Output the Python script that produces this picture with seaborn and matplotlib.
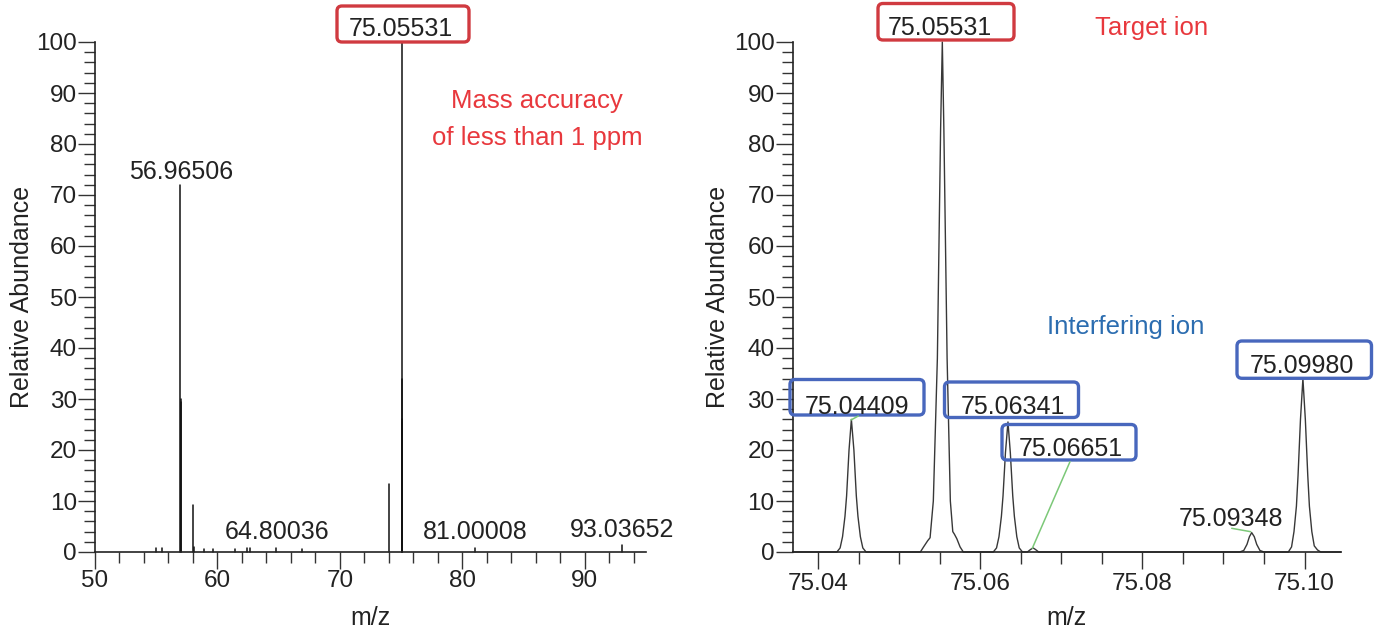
import numpy as np
import pandas as pd
import matplotlib
matplotlib.use("Agg")
import matplotlib.pyplot as plt
import seaborn as sns
from matplotlib.patches import FancyBboxPatch
from matplotlib.lines import Line2D
from matplotlib.transforms import IdentityTransform
from matplotlib.ticker import MultipleLocator

# ---------------- data ----------------
# Left panel: centroid (stick) spectrum
stick_mz = [54.96, 55.51, 56.96506, 57.00, 57.04, 58.00, 58.12, 58.87, 59.62,
            61.44, 62.45, 62.64, 64.80036, 66.90, 74.05, 75.04409, 75.05531,
            75.06341, 75.09348, 75.09980, 81.00008, 93.03652]
stick_ab = [0.7, 0.7, 72, 30, 29.5, 9.3, 1.0, 0.6, 0.6,
            0.6, 0.7, 0.7, 0.7, 0.5, 13.3, 26, 100,
            25.5, 3.8, 34, 0.8, 1.3]

# Right panel: profile spectrum, one list per peak
p1_mz = [75.0423, 75.0427, 75.0430, 75.0433, 75.0435, 75.0438, 75.04409,
         75.0444, 75.0447, 75.0449, 75.0452, 75.0455, 75.0459]
p1_ab = [0, 0.8, 3, 7, 11, 20, 26, 20, 11, 7, 3, 0.8, 0]
p2_mz = [75.0526, 75.0530, 75.0535, 75.0538, 75.0542, 75.0547, 75.0551, 75.05531,
         75.0555, 75.0559, 75.0563, 75.0566, 75.0568, 75.0571, 75.0575, 75.0579]
p2_ab = [0, 1, 2.2, 2.8, 10, 38, 83, 100, 83, 38, 10, 4, 3.5, 2.6, 1, 0]
p3_mz = [75.0616, 75.0620, 75.0623, 75.0626, 75.0628, 75.0631, 75.06341,
         75.0637, 75.0640, 75.0642, 75.0645, 75.0648, 75.0652]
p3_ab = [0, 0.8, 3, 7, 11, 19.5, 25.5, 19.5, 11, 7, 3, 0.8, 0]
p4_mz = [75.0658, 75.0662, 75.06651, 75.0668, 75.0672]
p4_ab = [0, 0.5, 0.8, 0.5, 0]
p5_mz = [75.0920, 75.0925, 75.0929, 75.0932, 75.09348, 75.0938, 75.0941, 75.0945, 75.0950]
p5_ab = [0, 0.3, 1.5, 3, 3.8, 3, 1.5, 0.3, 0]
p6_mz = [75.0980, 75.0984, 75.0987, 75.0990, 75.0992, 75.0995, 75.0998,
         75.1001, 75.1004, 75.1006, 75.1009, 75.1012, 75.1016, 75.1020]
p6_ab = [0, 1, 4, 9, 15, 26, 34, 26, 15, 9, 4, 1.2, 0.4, 0]

left_xlim = (50, 95)
right_xlim = (75.03685, 75.1045)
right_xticks = [75.04, 75.06, 75.08, 75.10]
right_xticklabels = ["75.04", "75.06", "75.08", "75.10"]

# ---------------- style ----------------
sns.set_style("ticks")
plt.rcParams["font.family"] = ["Liberation Sans", "DejaVu Sans"]
TXT = "#222222"
RED_TXT = "#e8383d"
RED_BOX = "#d03a40"
BLUE_TXT = "#2c6db0"
BLUE_BOX = "#4867bd"
GREEN = "#7cc878"

W, H = 1376, 632
fig = plt.figure(figsize=(W / 100, H / 100), dpi=100)

axL = fig.add_axes([95 / W, 1 - 552 / H, (646 - 95) / W, 510 / H])
axR = fig.add_axes([792.7 / W, 1 - 552 / H, (1341 - 792.7) / W, 510 / H])

# left sticks
rows = []
for i, (m, a) in enumerate(zip(stick_mz, stick_ab)):
    rows.append((i, m, 0.0))
    rows.append((i, m, a))
df_st = pd.DataFrame(rows, columns=["pk", "mz", "ab"])
sns.lineplot(data=df_st, x="mz", y="ab", units="pk", estimator=None, sort=False,
             color="#111111", lw=1.1, ax=axL, legend=False)
for ln in axL.lines:
    ln.set_clip_on(False)

# right profile
prof_mz = [right_xlim[0]] + p1_mz + p2_mz + p3_mz + p4_mz + p5_mz + p6_mz + [right_xlim[1]]
prof_ab = [0] + p1_ab + p2_ab + p3_ab + p4_ab + p5_ab + p6_ab + [0]
df_pr = pd.DataFrame({"mz": prof_mz, "ab": prof_ab})
sns.lineplot(data=df_pr, x="mz", y="ab", estimator=None, sort=False,
             color="#383838", lw=1.0, ax=axR, legend=False)
for ln in axR.lines:
    ln.set_clip_on(False)

for ax in (axL, axR):
    ax.set_ylim(0, 100)
    ax.yaxis.set_major_locator(MultipleLocator(10))
    ax.yaxis.set_minor_locator(MultipleLocator(2))
    for s in ("top", "right"):
        ax.spines[s].set_visible(False)
    for s in ("left", "bottom"):
        ax.spines[s].set_linewidth(1.2)
        ax.spines[s].set_color("#222222")
    ax.tick_params(axis="both", which="both", direction="out", color="#333333",
                   width=1.0, labelcolor=TXT, labelsize=17.5)
    ax.tick_params(axis="y", which="major", length=12.5, pad=0.5)
    ax.tick_params(axis="y", which="minor", length=8)
    ax.set_ylabel("Relative Abundance", fontsize=18, color=TXT)
    ax.set_xlabel("m/z", fontsize=18, color=TXT)

axL.set_xlim(*left_xlim)
axL.xaxis.set_major_locator(MultipleLocator(10))
axL.xaxis.set_minor_locator(MultipleLocator(2))
axL.tick_params(axis="x", which="major", length=12.5, pad=0.5)
axL.tick_params(axis="x", which="minor", length=8)

axR.set_xlim(*right_xlim)
axR.set_xticks(right_xticks, right_xticklabels)
axR.xaxis.set_minor_locator(MultipleLocator(0.005))
axR.tick_params(axis="x", which="major", length=12, pad=3)
axR.tick_params(axis="x", which="minor", length=8.5)

axL.yaxis.set_label_coords(-0.110, 0.5)
axR.yaxis.set_label_coords(-0.114, 0.5)
axL.xaxis.set_label_coords(0.5, -0.105)
axR.xaxis.set_label_coords(0.5, -0.105)

# ---------------- annotations (pixel positions from the top-left) ----------------
FS = 18


def ptext(x, y_base, s, color=TXT, size=FS):
    fig.text(x / W, 1 - y_base / H, s, ha="center", va="baseline",
             color=color, fontsize=size)


def pbox(x0, x1, y0, y1, color):
    p = FancyBboxPatch((x0, H - y1), x1 - x0, y1 - y0,
                       boxstyle="round,pad=0,rounding_size=5",
                       fill=False, ec=color, lw=2.4, transform=IdentityTransform())
    fig.add_artist(p)


def pline(x0, y0, x1, y1):
    fig.add_artist(Line2D([x0, x1], [H - y0, H - y1], color=GREEN, lw=1.1,
                          transform=IdentityTransform()))


# left panel labels
ptext(401, 36, "75.05531")
pbox(337, 469, 6, 42, RED_BOX)
ptext(181, 178.5, "56.96506")
ptext(277, 539, "64.80036")
ptext(475, 539, "81.00008")
ptext(622, 537, "93.03652")
ptext(537, 108, "Mass accuracy", RED_TXT, 18.5)
ptext(537, 145.5, "of less than 1 ppm", RED_TXT, 18.5)

# right panel labels
ptext(940, 35, "75.05531")
pbox(878, 1014, 3.5, 40, RED_BOX)
ptext(1152, 35.5, "Target ion", RED_TXT, 18.5)
ptext(1126, 334, "Interfering ion", BLUE_TXT, 18.5)

ptext(857.5, 413.5, "75.04409")
pbox(790, 924, 379.5, 415, BLUE_BOX)
pline(851, 420, 858.3, 416)

ptext(1013, 414, "75.06341")
pbox(944.5, 1078.5, 382, 417.5, BLUE_BOX)

ptext(1071, 456, "75.06651")
pbox(1002, 1136, 424.5, 460, BLUE_BOX)
pline(1070, 461.7, 1032.3, 548.3)

ptext(1302, 373, "75.09980")
pbox(1237, 1371.5, 341, 378.3, BLUE_BOX)

ptext(1231, 526.5, "75.09348")
pline(1231.7, 528.3, 1250.7, 531.7)

fig.savefig("out.png", dpi=100)
